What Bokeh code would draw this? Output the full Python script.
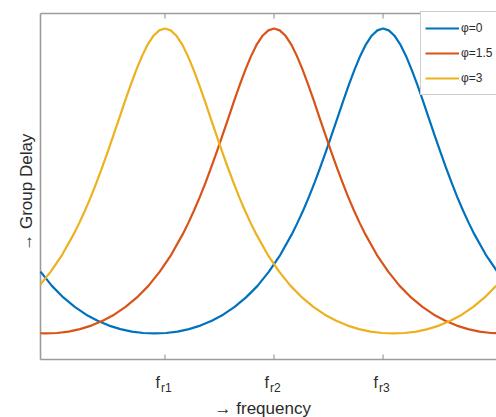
import math
from bokeh.plotting import figure
from bokeh.models import Range1d
from bokeh.core.properties import value
from bokeh.embed import file_html
from bokeh.resources import INLINE

# ---- data ----
phi_labels = ["\u03c6=0", "\u03c6=1.5", "\u03c6=3"]
tick_pos = [1.712, 3.212, 4.712]          # f_r1, f_r2, f_r3
tick_sub = ["r1", "r2", "r3"]

blue_x = [0, 0.157, 0.314, 0.471, 0.628, 0.785, 0.942, 1.1, 1.257, 1.414, 1.571,
          1.728, 1.885, 2.042, 2.199, 2.356, 2.513, 2.67, 2.827, 2.985, 3.142,
          3.299, 3.456, 3.534, 3.613, 3.691, 3.77, 3.848, 3.927, 4.005, 4.084,
          4.163, 4.241, 4.320, 4.398, 4.477, 4.555, 4.634, 4.712, 4.791, 4.869,
          4.948, 5.027, 5.105, 5.184, 5.262, 5.341, 5.419, 5.498, 5.576, 5.655,
          5.733, 5.812, 5.890, 5.969, 6.126, 6.283]
blue_y = [0.804, 0.735, 0.679, 0.633, 0.595, 0.566, 0.542, 0.525, 0.513, 0.506, 0.504,
          0.506, 0.513, 0.525, 0.542, 0.566, 0.595, 0.633, 0.679, 0.735, 0.804,
          0.886, 0.985, 1.041, 1.101, 1.166, 1.236, 1.310, 1.388, 1.468, 1.550,
          1.632, 1.711, 1.785, 1.852, 1.908, 1.950, 1.976, 1.985, 1.976, 1.950,
          1.908, 1.852, 1.785, 1.711, 1.632, 1.550, 1.468, 1.388, 1.310, 1.236,
          1.166, 1.101, 1.041, 0.985, 0.886, 0.804]

red_x = [0, 0.070, 0.228, 0.385, 0.542, 0.699, 0.856, 1.013, 1.170, 1.327, 1.484,
         1.641, 1.798, 1.955, 2.034, 2.112, 2.191, 2.270, 2.348, 2.427, 2.505,
         2.584, 2.662, 2.741, 2.819, 2.898, 2.976, 3.055, 3.134, 3.212, 3.291,
         3.369, 3.448, 3.526, 3.605, 3.683, 3.762, 3.840, 3.919, 3.997, 4.076,
         4.155, 4.233, 4.312, 4.390, 4.469, 4.626, 4.783, 4.940, 5.097, 5.254,
         5.411, 5.568, 5.725, 5.882, 6.039, 6.197, 6.354]
red_y = [0.505, 0.504, 0.506, 0.513, 0.525, 0.542, 0.566, 0.595, 0.633, 0.679, 0.735,
         0.804, 0.886, 0.985, 1.041, 1.101, 1.166, 1.236, 1.310, 1.388, 1.468,
         1.550, 1.632, 1.711, 1.785, 1.852, 1.908, 1.950, 1.976, 1.985, 1.976,
         1.950, 1.908, 1.852, 1.785, 1.711, 1.632, 1.550, 1.468, 1.388, 1.310,
         1.236, 1.166, 1.101, 1.041, 0.985, 0.886, 0.804, 0.735, 0.679, 0.633,
         0.595, 0.566, 0.542, 0.525, 0.513, 0.506, 0.504]

yellow_x = [0, 0.141, 0.298, 0.455, 0.534, 0.612, 0.691, 0.770, 0.848, 0.927, 1.005,
            1.084, 1.162, 1.241, 1.319, 1.398, 1.476, 1.555, 1.634, 1.712, 1.791,
            1.869, 1.948, 2.026, 2.105, 2.183, 2.262, 2.340, 2.419, 2.497, 2.576,
            2.655, 2.733, 2.812, 2.890, 2.969, 3.126, 3.283, 3.440, 3.597, 3.754,
            3.911, 4.068, 4.225, 4.382, 4.539, 4.697, 4.854, 5.011, 5.168, 5.325,
            5.482, 5.639, 5.796, 5.953, 6.110, 6.267]
yellow_y = [0.742, 0.804, 0.886, 0.985, 1.041, 1.101, 1.166, 1.236, 1.310, 1.388, 1.468,
            1.550, 1.632, 1.711, 1.785, 1.852, 1.908, 1.950, 1.976, 1.985, 1.976,
            1.950, 1.908, 1.852, 1.785, 1.711, 1.632, 1.550, 1.468, 1.388, 1.310,
            1.236, 1.166, 1.101, 1.041, 0.985, 0.886, 0.804, 0.735, 0.679, 0.633,
            0.595, 0.566, 0.542, 0.525, 0.513, 0.506, 0.504, 0.506, 0.513, 0.525,
            0.542, 0.566, 0.595, 0.633, 0.679, 0.735]

# ---- layout / style ----
colors = ["#0072BD", "#D95319", "#EDB120"]
FONT = "Liberation Sans"
TXT = "#2b2b2b"
AX = "#9c9c9c"

# axes box in data units (x: phase, y: group delay)
X0, X1 = 0.0, 6.2724
Y0, Y1 = 0.3774, 2.058
PX_Y = 205.9      # pixels per y unit
TICK = 5 / PX_Y

p = figure(width=496, height=417, output_backend="svg", toolbar_location=None,
           x_range=Range1d(-0.5502, 6.2724), y_range=Range1d(0.0957, 2.1210),
           min_border_left=0, min_border_right=0, min_border_top=0, min_border_bottom=0)
p.axis.visible = False
p.grid.visible = False
p.outline_line_color = None
p.background_fill_color = "white"
p.border_fill_color = "white"

# box: left, bottom, top edges
p.multi_line(xs=[[X0, X0], [X0, X1], [X0, X1]], ys=[[Y0, Y1], [Y0, Y0], [Y1, Y1]],
             line_color=AX, line_width=1.6)
# ticks (inward) at bottom and top
p.segment(x0=tick_pos, y0=[Y0] * 3, x1=tick_pos, y1=[Y0 + TICK] * 3, line_color=AX, line_width=1.2)
p.segment(x0=tick_pos, y0=[Y1] * 3, x1=tick_pos, y1=[Y1 - TICK] * 3, line_color=AX, line_width=1.2)

# curves
for xs, ys, c, lab in [(blue_x, blue_y, colors[0], phi_labels[0]),
                       (red_x, red_y, colors[1], phi_labels[1]),
                       (yellow_x, yellow_y, colors[2], phi_labels[2])]:
    p.line(xs, ys, line_color=c, line_width=2.2, line_join="round", legend_label=lab)

# tick labels f_r1, f_r2, f_r3
p.text(x=tick_pos, y=[Y0 - 23 / PX_Y] * 3, text=["f"] * 3, text_align="right",
       text_baseline="alphabetic", x_offset=-5, text_font=value(FONT),
       text_font_size="16px", text_color=TXT)
p.text(x=tick_pos, y=[Y0 - 29 / PX_Y] * 3, text=tick_sub, text_align="left",
       text_baseline="alphabetic", x_offset=-4, text_font=value(FONT),
       text_font_size="12px", text_color=TXT)

# axis titles
p.text(x=[3.122], y=[Y0 - 49 / PX_Y], text=["\u2192   frequency"], text_align="center",
       text_baseline="alphabetic", text_font=value(FONT), text_font_size="17px", text_color=TXT)
p.text(x=[-0.1926], y=[1.2128], text=["\u2192   Group Delay"], angle=math.pi / 2,
       text_align="center", text_baseline="middle", text_font=value(FONT),
       text_font_size="17px", text_color=TXT)

lg = p.legend[0]
lg.location = (420, 322)
lg.margin = 0
lg.padding = 4
lg.spacing = 1
lg.glyph_width = 34
lg.glyph_height = 24
lg.label_height = 24
lg.label_standoff = 2
lg.label_text_font = FONT
lg.label_text_font_size = "12px"
lg.label_text_color = TXT
lg.border_line_color = AX
lg.border_line_width = 1.5
lg.background_fill_color = "white"
lg.background_fill_alpha = 1.0

open("out.html", "w").write(file_html(p, INLINE))
